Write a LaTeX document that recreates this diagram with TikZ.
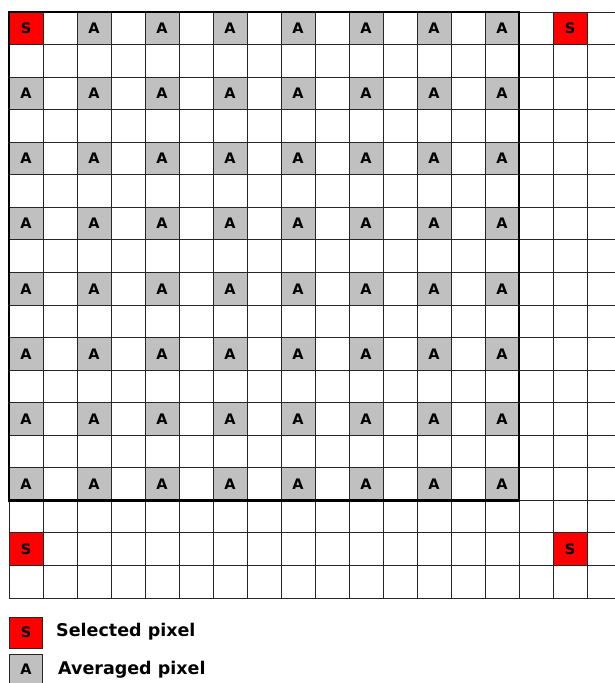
\documentclass[tikz,border=0pt]{standalone}
\usepackage{fontspec}
\setmainfont{DejaVu Sans}
\usepackage{xcolor}
\usepackage{tikz}
\usetikzlibrary{positioning}

\definecolor{selred}{HTML}{FF0000}
\definecolor{avggrey}{HTML}{C0C0C0}

\begin{document}
\begin{tikzpicture}[
  x=1pt, y=-1pt,
  every node/.style={font=\bfseries},
  pix/.style    ={inner sep=0pt, minimum width=34pt, minimum height=32.56pt,
                  font=\fontsize{14.5}{14.5}\selectfont\bfseries},
  selpix/.style ={pix, fill=selred},
  avgpix/.style ={pix, fill=avggrey},
  keybox/.style ={draw=black!85, line width=0.9pt, inner sep=0pt,
                  minimum width=33pt, minimum height=31pt,
                  font=\fontsize{14.5}{14.5}\selectfont\bfseries},
  keytext/.style={anchor=west, inner sep=0pt,
                  font=\fontsize{17.5}{17.5}\selectfont\bfseries},
  gridline/.style={draw=black!85, line width=1pt},
  block/.style  ={draw=black, line width=2.6pt},
]
  \useasboundingbox[fill=white] (0,0) rectangle (615,683);
  \clip (0,0) rectangle (615,683);

  % averaged pixels inside the block
  \foreach \i in {0,2,...,14}
    \foreach \j in {0,2,...,14}
      {\ifnum\i\j=0\relax\else
         \node[avgpix] (a-\i-\j) at ({26+34*\i},{28.28+32.56*\j}) {A};
       \fi}

  % selected pixels
  \node[selpix] (s-0-0)   at (26,28.28)              {S};
  \node[selpix] (s-16-0)  at ({26+34*16},28.28)      {S};
  \node[selpix] (s-0-16)  at (26,{28.28+32.56*16})   {S};
  \node[selpix] (s-16-16) at ({26+34*16},{28.28+32.56*16}) {S};

  % pixel grid
  \foreach \k in {0,...,18}
    \draw[gridline] ({9+34*\k},12) -- ({9+34*\k},598.1);
  \foreach \k in {0,...,18}
    \draw[gridline] (9,{12+32.56*\k}) -- (621,{12+32.56*\k});

  % averaging block
  \draw[block] (9,12) rectangle (519,500.4);

  % legend
  \node[keybox, fill=selred]  (selkey) at (26,632.5) {S};
  \node[keytext] (seltext) at (56,632) {Selected pixel};
  \node[keybox, fill=avggrey] (avgkey) at (26,669.5) {A};
  \node[keytext] (avgtext) at (58,670) {Averaged pixel};
\end{tikzpicture}
\end{document}
